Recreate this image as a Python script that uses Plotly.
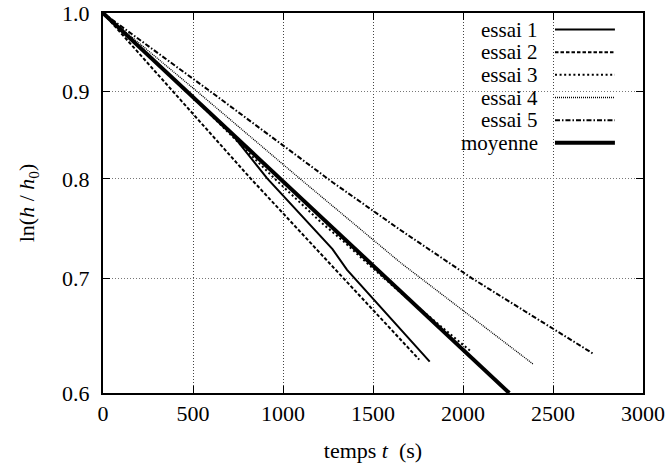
import plotly.graph_objects as go

# ---- data ----
t_essai1 = [0, 500, 700, 912, 1275, 1356, 1815]
h_essai1 = [1.0, 0.894, 0.854, 0.8007, 0.728, 0.708, 0.6258]

t_essai2 = [0, 818, 1757]
h_essai2 = [1.0, 0.801, 0.6275]

t_essai3 = [0, 500, 950, 1210, 1340, 1470, 1630, 2040]
h_essai3 = [1.0, 0.893, 0.801, 0.755, 0.735, 0.714, 0.690, 0.635]

t_essai4 = [0, 522, 1096, 1652, 2003, 2392]
h_essai4 = [1.0, 0.90, 0.80, 0.715, 0.670, 0.6235]

t_essai5 = [0, 596, 1279, 1652, 2050, 2729]
h_essai5 = [1.0, 0.90, 0.796, 0.747, 0.70, 0.632]

t_moyenne = [0, 2257]
h_moyenne = [1.0, 0.6]

x_ticks = [0, 500, 1000, 1500, 2000, 2500, 3000]
y_ticks = [0.6, 0.7, 0.8, 0.9, 1.0]
y_ticktext = ["0.6", "0.7", "0.8", "0.9", "1.0"]

names = ["essai 1", "essai 2", "essai 3", "essai 4", "essai 5", "moyenne"]
series_t = [t_essai1, t_essai2, t_essai3, t_essai4, t_essai5, t_moyenne]
series_h = [h_essai1, h_essai2, h_essai3, h_essai4, h_essai5, h_moyenne]

# ---- styles ----
styles = [
    dict(color="black", width=2, dash="solid"),
    dict(color="black", width=2, dash="3.5px,2px"),
    dict(color="black", width=2, dash="2px,2.6px"),
    dict(color="black", width=1.3, dash="1px,1px"),
    dict(color="black", width=2, dash="5px,2px,1.5px,2px"),
    dict(color="black", width=4, dash="solid"),
]

FONT = "Liberation Serif"
FSIZE = 22
KEY_FSIZE = 21

fig = go.Figure()
for name, t, h, st in zip(names, series_t, series_h, styles):
    fig.add_trace(go.Scatter(x=t, y=h, mode="lines", name=name, line=st,
                             showlegend=False, hoverinfo="skip"))

# ---- manual gnuplot-style key (text left, sample right) ----
key_bg = dict(type="rect", xref="paper", yref="paper", x0=0.636, x1=0.973,
              y0=0.63, y1=0.997, fillcolor="white", line=dict(width=0),
              layer="between")
shapes = [key_bg]
annotations = []
y_top = 0.9564
dy = 0.0596
for i, (name, st) in enumerate(zip(names, styles)):
    yy = y_top - i * dy
    annotations.append(dict(text=name, x=0.809, y=yy, xref="paper", yref="paper",
                            xanchor="right", yanchor="middle", showarrow=False,
                            font=dict(family=FONT, size=KEY_FSIZE, color="black")))
    shapes.append(dict(type="line", xref="paper", yref="paper", x0=0.837, x1=0.948,
                       y0=yy, y1=yy, line=st, layer="above"))

fig.update_layout(
    width=666, height=463,
    margin=dict(l=103, r=23, t=13, b=70),
    paper_bgcolor="white", plot_bgcolor="white",
    font=dict(family=FONT, size=FSIZE, color="black"),
    shapes=shapes, annotations=annotations,
    showlegend=False,
)
fig.update_xaxes(
    range=[0, 3000], tickvals=x_ticks, ticks="inside", ticklen=7, tickwidth=1,
    tickcolor="black", showline=True, linecolor="black", linewidth=2, mirror="ticks",
    showgrid=True, gridcolor="#444444", griddash="1px,2px", gridwidth=1,
    zeroline=False, ticklabelstandoff=0, automargin=False,
    tickfont=dict(family=FONT, size=FSIZE),
    title=dict(text="temps <i>t</i>  (s)", standoff=21,
               font=dict(family=FONT, size=FSIZE)),
)
fig.update_yaxes(
    type="log", range=[-0.22185, 0], tickvals=y_ticks, ticktext=y_ticktext,
    ticks="inside", ticklen=7, tickwidth=1, tickcolor="black",
    showline=True, linecolor="black", linewidth=2, mirror="ticks",
    showgrid=True, gridcolor="#777777", griddash="1px,2px", gridwidth=1,
    zeroline=False, ticklabelstandoff=7, automargin=False,
    tickfont=dict(family=FONT, size=FSIZE),
    title=dict(text="ln(<i>h</i> / <i>h</i><sub>0</sub>)", standoff=21,
               font=dict(family=FONT, size=FSIZE)),
)

fig.write_html("out.html", config={"displayModeBar": False},
               post_script="document.body.style.margin='0';document.body.style.padding='0';")
